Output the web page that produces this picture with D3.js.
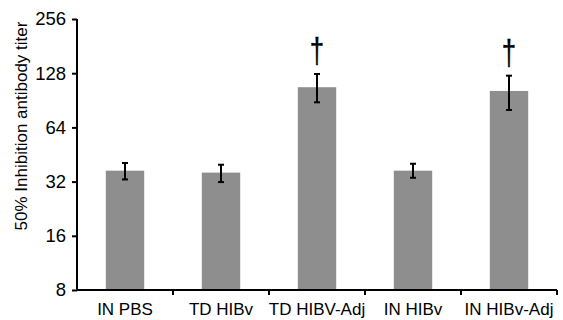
<!DOCTYPE html>
<html><head><meta charset="utf-8">
<script src="https://cdn.jsdelivr.net/npm/d3@7"></script>
<style>
body{margin:0;background:#fff;}
svg{display:block;font-family:"Liberation Sans",Arial,sans-serif;}
</style></head>
<body><svg id="c" width="563" height="320"></svg>
<script>
const categories = ["IN PBS","TD HIBv","TD HIBV-Adj","IN HIBv","IN HIBv-Adj"];
const means = [36.8, 35.9, 107, 36.8, 102];
const upper = [40.6, 39.7, 126.7, 40.2, 124];
const lower = [32.9, 31.8, 88.2, 33.6, 80];
const significant = [false, false, true, false, true];
const yTicks = [8,16,32,64,128,256];
const yTitle = "50% Inhibition antibody titer";

const svg = d3.select("#c");
const x = d3.scaleBand().domain(categories).range([77,557]).paddingInner(0.6).paddingOuter(0.3);
const y = d3.scaleLog().base(2).domain([8,256]).range([290,19]);

const data = categories.map((c,i)=>({c, m:means[i], hi:upper[i], lo:lower[i], sig:significant[i]}));

// bars
svg.selectAll("rect.bar").data(data).join("rect")
  .attr("class","bar")
  .attr("x",d=>x(d.c)).attr("width",x.bandwidth())
  .attr("y",d=>y(d.m)).attr("height",d=>y(8)-y(d.m))
  .attr("fill","#8e8e8e");

// error bars
const eb = svg.selectAll("g.eb").data(data).join("g").attr("class","eb")
  .attr("stroke","#000").attr("stroke-width",2);
eb.append("line").attr("x1",d=>x(d.c)+x.bandwidth()/2).attr("x2",d=>x(d.c)+x.bandwidth()/2)
  .attr("y1",d=>y(d.hi)).attr("y2",d=>y(d.lo));
eb.append("line").attr("x1",d=>x(d.c)+x.bandwidth()/2-3).attr("x2",d=>x(d.c)+x.bandwidth()/2+3)
  .attr("y1",d=>y(d.hi)).attr("y2",d=>y(d.hi));
eb.append("line").attr("x1",d=>x(d.c)+x.bandwidth()/2-3).attr("x2",d=>x(d.c)+x.bandwidth()/2+3)
  .attr("y1",d=>y(d.lo)).attr("y2",d=>y(d.lo));

// daggers
svg.selectAll("text.dag").data(data.filter(d=>d.sig)).join("text")
  .attr("class","dag")
  .attr("transform",d=>`translate(${x(d.c)+x.bandwidth()/2},${y(d.hi)-11}) scale(0.78,1.08)`)
  .attr("text-anchor","middle")
  .attr("font-size",33)
  .attr("stroke","#000").attr("stroke-width",0.4)
  .text("†");

// y axis
const ya = svg.append("g").attr("transform","translate(77,0)")
  .call(d3.axisLeft(y).tickValues(yTicks).tickFormat(d3.format("d")).tickSize(5).tickPadding(6));
ya.select(".domain").attr("stroke","#000").attr("stroke-width",2).attr("d","M0,19V290");
ya.selectAll(".tick line").attr("stroke","#000").attr("stroke-width",2);
ya.selectAll(".tick text").attr("font-size",18.5).attr("fill","#000").attr("font-family","Liberation Sans, Arial, sans-serif");

// x axis
const xa = svg.append("g").attr("transform","translate(0,290)")
  .call(d3.axisBottom(x).tickSize(0).tickPadding(13));
xa.select(".domain").attr("stroke","#000").attr("stroke-width",2).attr("d","M76,0H557");
xa.selectAll(".tick text").attr("font-size",17).attr("fill","#000").attr("font-family","Liberation Sans, Arial, sans-serif");
const bounds = categories.map(c=>x(c)-x.step()*x.paddingOuter()).concat([x.range()[1]]).slice(1);
xa.selectAll("line.bt").data(bounds).join("line").attr("class","bt")
  .attr("x1",d=>d).attr("x2",d=>d).attr("y1",0).attr("y2",5)
  .attr("stroke","#000").attr("stroke-width",2);

// y title
svg.append("text")
  .attr("transform","translate(27,126) rotate(-90)")
  .attr("text-anchor","middle")
  .attr("font-size",17)
  .text(yTitle);
</script></body></html>
